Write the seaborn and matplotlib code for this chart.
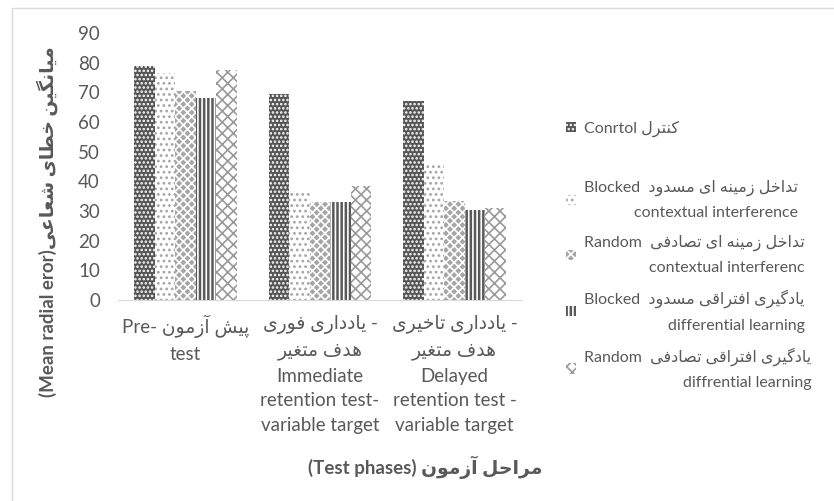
import matplotlib
matplotlib.use("Agg")
import matplotlib.pyplot as plt
from matplotlib.patches import Patch, Rectangle
import seaborn as sns
import pandas as pd

# Persian letters -> (isolated, final, initial, medial) presentation forms
FORMS = {
    'ا': (0xFE8D, 0xFE8E, None, None),
    'آ': (0xFE81, 0xFE82, None, None),
    'ب': (0xFE8F, 0xFE90, 0xFE91, 0xFE92),
    'پ': (0xFB56, 0xFB57, 0xFB58, 0xFB59),
    'ت': (0xFE95, 0xFE96, 0xFE97, 0xFE98),
    'ح': (0xFEA1, 0xFEA2, 0xFEA3, 0xFEA4),
    'خ': (0xFEA5, 0xFEA6, 0xFEA7, 0xFEA8),
    'د': (0xFEA9, 0xFEAA, None, None),
    'ر': (0xFEAD, 0xFEAE, None, None),
    'ز': (0xFEAF, 0xFEB0, None, None),
    'س': (0xFEB1, 0xFEB2, 0xFEB3, 0xFEB4),
    'ش': (0xFEB5, 0xFEB6, 0xFEB7, 0xFEB8),
    'ص': (0xFEB9, 0xFEBA, 0xFEBB, 0xFEBC),
    'ط': (0xFEC1, 0xFEC2, 0xFEC3, 0xFEC4),
    'ع': (0xFEC9, 0xFECA, 0xFECB, 0xFECC),
    'غ': (0xFECD, 0xFECE, 0xFECF, 0xFED0),
    'ف': (0xFED1, 0xFED2, 0xFED3, 0xFED4),
    'ق': (0xFED5, 0xFED6, 0xFED7, 0xFED8),
    'ک': (0xFB8E, 0xFB8F, 0xFB90, 0xFB91),
    'گ': (0xFB92, 0xFB93, 0xFB94, 0xFB95),
    'ل': (0xFEDD, 0xFEDE, 0xFEDF, 0xFEE0),
    'م': (0xFEE1, 0xFEE2, 0xFEE3, 0xFEE4),
    'ن': (0xFEE5, 0xFEE6, 0xFEE7, 0xFEE8),
    'ه': (0xFEE9, 0xFEEA, 0xFEEB, 0xFEEC),
    'و': (0xFEED, 0xFEEE, None, None),
    'ی': (0xFBFC, 0xFBFD, 0xFBFE, 0xFBFF),
}


def fa(text):
    """Shape Persian text and put it in visual (left to right) order."""
    out = []
    for i, ch in enumerate(text):
        if ch not in FORMS:
            out.append(ch)
            continue
        prev = text[i - 1] if i > 0 else ''
        nxt = text[i + 1] if i + 1 < len(text) else ''
        join_prev = prev in FORMS and FORMS[prev][2] is not None
        join_next = FORMS[ch][2] is not None and nxt in FORMS
        iso, fin, ini, med = FORMS[ch]
        if join_prev and join_next:
            code = med
        elif join_prev:
            code = fin
        elif join_next:
            code = ini
        else:
            code = iso
        out.append(chr(code))
    return ''.join(reversed(out))


# data
phases = ['pre', 'immediate', 'delayed']
phase_labels = [
    'Pre- ' + fa('پیش آزمون') + '\ntest',
    fa('یادداری فوری') + ' -\n' + fa('هدف متغیر') + '\nImmediate\nretention test-\nvariable target',
    fa('یادداری تاخیری') + ' -\n' + fa('هدف متغیر') + '\nDelayed\nretention test -\nvariable target',
]
groups = ['control', 'blocked_ci', 'random_ci', 'blocked_dl', 'random_dl']
group_labels = [
    'Conrtol ' + fa('کنترل'),
    'Blocked  ' + fa('تداخل زمینه ای مسدود') + '\ncontextual interference',
    'Random  ' + fa('تداخل زمینه ای تصادفی') + '\ncontextual interferenc',
    'Blocked  ' + fa('یادگیری افتراقی مسدود') + '\ndifferential learning',
    'Random  ' + fa('یادگیری افتراقی تصادفی') + '\ndiffrential learning',
]
control = [79, 69.5, 67]
blocked_ci = [76.5, 36.5, 46]
random_ci = [70.5, 33, 33.5]
blocked_dl = [68, 33, 30.5]
random_dl = [77.5, 38.5, 31]

values = [control, blocked_ci, random_ci, blocked_dl, random_dl]
df = pd.DataFrame({
    'phase': [p for g in groups for p in phases],
    'group': [g for g in groups for p in phases],
    'value': [v for vals in values for v in vals],
})

# (face, hatch colour, hatch)
styles = [
    ('#555555', '#ffffff', '....'),
    ('#ffffff', '#a6a6a6', '...'),
    ('#a6a6a6', '#ffffff', 'xxxx'),
    ('#595959', '#ffffff', '||||'),
    ('#ffffff', '#9a9a9a', 'xxx'),
]

sns.set_style('white')
plt.rcParams['font.family'] = ['Lato', 'DejaVu Sans']
plt.rcParams['hatch.linewidth'] = 1.2
text_color = '#595959'

fig = plt.figure(figsize=(8.34, 5.01), dpi=100)
ax = fig.add_axes([118 / 834, 1 - 300 / 501, 404 / 834, 267 / 501])

sns.barplot(data=df, x='phase', y='value', hue='group', order=phases,
            hue_order=groups, width=0.76, palette=['#595959'] * 5,
            legend=False, ax=ax)

for container, (face, edge, hatch) in zip(ax.containers, styles):
    for bar in container:
        bar.set_facecolor(face)
        bar.set_edgecolor(edge)
        bar.set_hatch(hatch)
        bar.set_linewidth(0)

ax.set_xlim(-0.5, 2.5)
ax.set_ylim(0, 90)
ax.set_yticks(range(0, 91, 10))
ax.set_xticks(range(len(phases)))
ax.set_xticklabels(phase_labels, fontsize=13.5, color=text_color, linespacing=1.55)
ax.tick_params(axis='y', labelsize=13.5, labelcolor=text_color, length=0, pad=13)
ax.tick_params(axis='x', length=0, pad=10.5)
ax.set_xlabel('')
ax.set_ylabel('')
for side in ['left', 'right', 'top']:
    ax.spines[side].set_visible(False)
ax.spines['bottom'].set_color('#d9d9d9')

fig.text(47 / 834, 1 - 222 / 501, '(Mean radial eror)' + fa('میانگین خطای شعاعی'),
         rotation=90, ha='center', va='center', fontsize=13.5, fontweight='bold',
         color=text_color)
fig.text(425 / 834, 1 - 467 / 501, '(Test phases) ' + fa('مراحل آزمون'),
         ha='center', va='center', fontsize=13.5, fontweight='bold', color=text_color)

handles = []
labels = []
for i, (face, edge, hatch) in enumerate(styles):
    handles.append(Patch(facecolor=face, edgecolor=edge, hatch=hatch, linewidth=0))
    labels.append(group_labels[i])
    if i == 0:
        handles.append(Patch(facecolor='none', edgecolor='none', linewidth=0))
        labels.append(' ')

leg = fig.legend(handles, labels, loc='upper left',
                 bbox_to_anchor=(552 / 834, 1 - 106 / 501), frameon=False,
                 fontsize=11.5, labelcolor=text_color, handlelength=0.62,
                 handleheight=0.62, handletextpad=0.5, labelspacing=0.9)
for t in leg.get_texts():
    t.set_multialignment('right')
    t.set_linespacing(1.95)

fig.patches.append(Rectangle((12 / 834, -0.05), 1.2, 1.05 - 8 / 501,
                             transform=fig.transFigure, fill=False,
                             edgecolor='#d9d9d9', linewidth=1))

fig.savefig('out.png', dpi=100)
